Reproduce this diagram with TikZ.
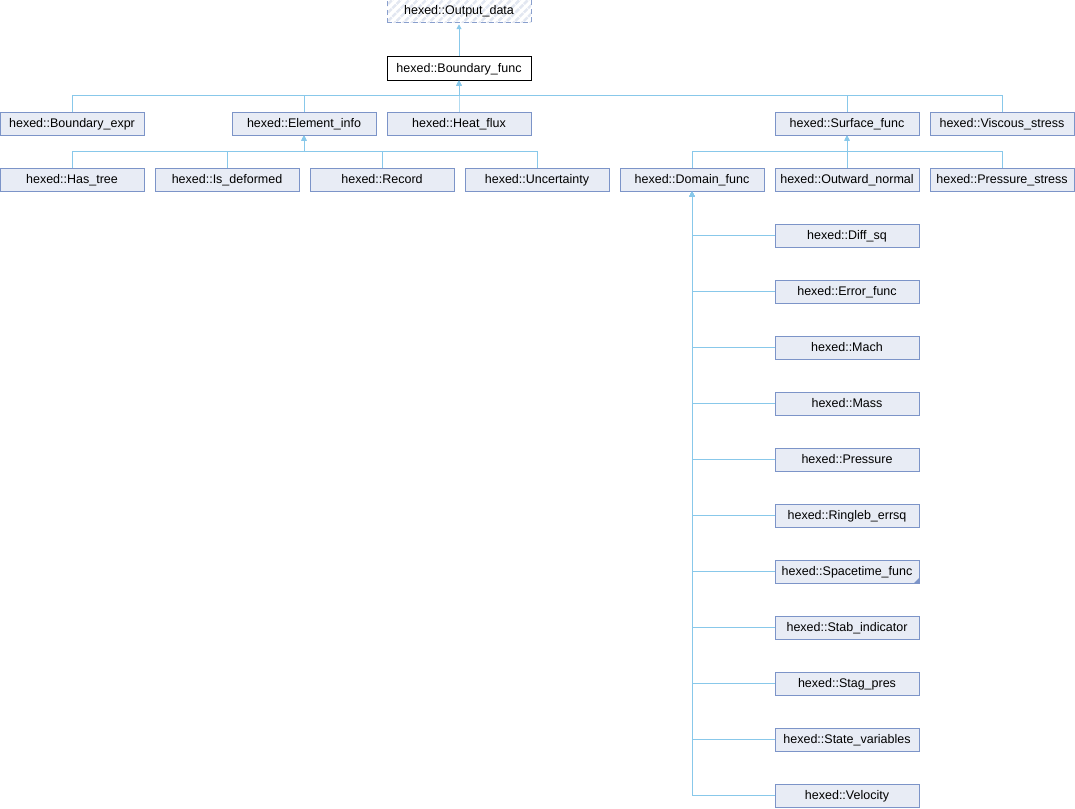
\documentclass[tikz,border=0pt]{standalone}
\usepackage{fontspec}
\setmainfont{Liberation Sans}
\usetikzlibrary{arrows.meta, patterns.meta}
\definecolor{edgeblue}{RGB}{136,200,234}
\definecolor{boxline}{RGB}{124,148,200}
\definecolor{boxfill}{RGB}{232,236,245}
\definecolor{hatch}{RGB}{226,231,241}
\tikzset{
  cls/.style={draw=boxline, fill=boxfill, line width=1pt, minimum width=144pt,
    minimum height=23pt, inner sep=0pt, text height=9.5pt, text depth=2.5pt,
    font=\fontsize{12.5}{14}\selectfont},
  inherit/.style={draw=edgeblue, line width=1pt, -{Triangle[width=5pt,length=5pt]}},
}

\begin{document}
\begin{tikzpicture}[x=1pt,y=-1pt]
            \useasboundingbox (0,0) rectangle (1075,808);

            % top of the tree
            \node[cls, draw=boxline!90, dash pattern=on 5pt off 3.5pt, minimum height=24pt,
              pattern={Lines[angle=45,distance=6pt,line width=2.5pt]}, pattern color=hatch]
              (outputdata) at (459,11) {hexed::Output\_data};
            \node[cls, draw=black, fill=white] (boundaryfunc) at (459,68.5) {hexed::Boundary\_func};
            \draw[inherit] (boundaryfunc.north) -- (outputdata.south);

            % children of Boundary_func
            \node[cls] (boundaryexpr) at (72,123.5) {hexed::Boundary\_expr};
            \node[cls] (elementinfo) at (304,123.5) {hexed::Element\_info};
            \node[cls] (heatflux) at (459,123.5) {hexed::Heat\_flux};
            \node[cls] (surfacefunc) at (847,123.5) {hexed::Surface\_func};
            \node[cls] (viscousstress) at (1002,123.5) {hexed::Viscous\_stress};
            \foreach \n in {boundaryexpr,elementinfo,heatflux,surfacefunc,viscousstress}
              \draw[inherit] (\n.north) -- ++(0,-16) -| (boundaryfunc.south);

            % children of Element_info
            \node[cls] (hastree) at (72,179.5) {hexed::Has\_tree};
            \node[cls] (isdeformed) at (227,179.5) {hexed::Is\_deformed};
            \node[cls] (record) at (382,179.5) {hexed::Record};
            \node[cls] (uncertainty) at (537,179.5) {hexed::Uncertainty};
            \foreach \n in {hastree,isdeformed,record,uncertainty}
              \draw[inherit] (\n.north) -- ++(0,-16) -| (elementinfo.south);

            % children of Surface_func
            \node[cls] (domainfunc) at (692,179.5) {hexed::Domain\_func};
            \node[cls] (outwardnormal) at (847,179.5) {hexed::Outward\_normal};
            \node[cls] (pressurestress) at (1002,179.5) {hexed::Pressure\_stress};
            \foreach \n in {domainfunc,outwardnormal,pressurestress}
              \draw[inherit] (\n.north) -- ++(0,-16) -| (surfacefunc.south);

            % children of Domain_func
            \foreach \n/\t [count=\i] in {diffsq/Diff\_sq, errorfunc/Error\_func, mach/Mach,
                mass/Mass, pressure/Pressure, ringleberrsq/Ringleb\_errsq,
                spacetimefunc/Spacetime\_func, stabindicator/Stab\_indicator,
                stagpres/Stag\_pres, statevariables/State\_variables, velocity/Velocity} {
              \node[cls] (\n) at (847,179.5+56*\i) {hexed::\t};
              \draw[inherit] (\n.west) -| (domainfunc.south);
            }
            \fill[boxline] (spacetimefunc.south east) -- ++(-6,0) -- ++(6,-6) -- cycle;
        \end{tikzpicture}
\end{document}
